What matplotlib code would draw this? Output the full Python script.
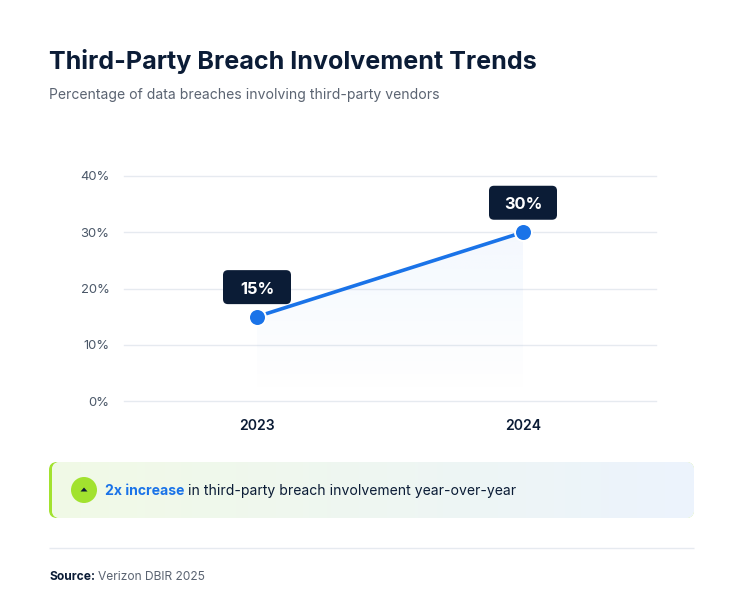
import numpy as np
import matplotlib
matplotlib.use("Agg")
import matplotlib.pyplot as plt
from matplotlib.patches import FancyBboxPatch, Circle, Polygon

years = [2023, 2024]
breach_pct = [15, 30]
y_ticks = [0, 10, 20, 30, 40]

W, H = 745, 605
NAVY = "#0b1c36"
BLUE = "#1a73e8"
LIME = "#a2e22f"
GREY = "#5b6472"
GRID = "#e6eaf0"

plt.rcParams["font.family"] = ["Inter", "DejaVu Sans"]


def px(size):
    # css pixels to points at dpi 100
    return size * 0.72


fig = plt.figure(figsize=(W / 100, H / 100), dpi=100, facecolor="white")

# full-figure axes in pixel coordinates for the card furniture
bg = fig.add_axes([0, 0, 1, 1])
bg.set_xlim(0, W)
bg.set_ylim(H, 0)
bg.axis("off")

bg.text(49, 61, "Third-Party Breach Involvement Trends", fontsize=px(25.1), fontweight="bold",
        color=NAVY, va="center", ha="left")
bg.text(49, 95, "Percentage of data breaches involving third-party vendors", fontsize=px(14),
        color=GREY, va="center", ha="left")

# callout banner
lime_box = FancyBboxPatch((49, 462), 645, 56, boxstyle="round,pad=0,rounding_size=8",
                          fc=LIME, ec="none", zorder=1)
bg.add_patch(lime_box)
inner = FancyBboxPatch((52, 462), 642, 56, boxstyle="round,pad=0,rounding_size=8",
                       fc="white", ec="none", zorder=2)
bg.add_patch(inner)
left_c = np.array([0xf1, 0xfa, 0xe6]) / 255
right_c = np.array([0xec, 0xf3, 0xfd]) / 255
t = np.linspace(0, 1, 256)[None, :, None]
grad = left_c[None, None, :] * (1 - t) + right_c[None, None, :] * t
im = bg.imshow(grad, extent=(52, 694, 518, 462), aspect="auto", zorder=3)
im.set_clip_path(inner)
bg.set_xlim(0, W)
bg.set_ylim(H, 0)

bg.add_patch(Circle((84, 490), 13, fc=LIME, ec="none", zorder=4))
bg.add_patch(Polygon([[80.5, 491.5], [87.5, 491.5], [84, 487.5]], closed=True, fc=NAVY, ec="none", zorder=5))

lead = bg.text(105, 491, "2x increase", fontsize=px(14), fontweight="bold", color=BLUE,
               va="center", ha="left", zorder=5)
fig.canvas.draw()
r = fig.canvas.get_renderer()
end = lead.get_window_extent(r).x1
bg.text(end + 4, 491, "in third-party breach involvement year-over-year", fontsize=px(14), color=NAVY,
        va="center", ha="left", zorder=5)

# footer
bg.plot([49, 694], [548, 548], color=GRID, lw=1, solid_capstyle="butt")
src = bg.text(49, 577, "Source:", fontsize=px(12.05), fontweight="bold", color=NAVY, va="center", ha="left")
fig.canvas.draw()
end = src.get_window_extent(r).x1
bg.text(end + 3.5, 577, "Verizon DBIR 2025", fontsize=px(12.05), color=GREY, va="center", ha="left")

# chart area: 124..656 px across, 176..401 px down
ax = fig.add_axes([124 / W, 1 - 401 / H, (656 - 124) / W, (401 - 176) / H])
ax.patch.set_alpha(0)
ax.set_xlim(2022.5, 2024.5)
ax.set_ylim(0, 40)
for s in ax.spines.values():
    s.set_visible(False)
ax.set_yticks(y_ticks)
ax.set_yticklabels([f"{v}%" for v in y_ticks], fontsize=px(13), color="#4a5768")
ax.set_xticks(years)
ax.set_xticklabels([str(v) for v in years], fontsize=px(14), fontweight="semibold", color=NAVY)
ax.tick_params(axis="both", length=0)
ax.tick_params(axis="y", pad=10.5)
ax.tick_params(axis="x", pad=13)
ax.grid(axis="y", color=GRID, lw=1, clip_on=False)
ax.set_axisbelow(True)

# area under the line fades out towards the baseline
fade = np.zeros((256, 1, 4))
fade[..., :3] = matplotlib.colors.to_rgb(BLUE)
fade[..., 3] = np.linspace(0.05, 0.0, 256)[:, None]
area = ax.imshow(fade, extent=(years[0], years[1], 0, max(breach_pct)), origin="upper",
                 aspect="auto", zorder=1)
area.set_clip_path(Polygon([[years[0], 0], [years[0], breach_pct[0]], [years[1], breach_pct[1]], [years[1], 0]],
                           closed=True, transform=ax.transData))
ax.set_xlim(2022.5, 2024.5)
ax.set_ylim(0, 40)

ax.plot(years, breach_pct, color=BLUE, lw=2.6, zorder=3, solid_capstyle="butt")
ax.plot(years, breach_pct, "o", ms=12.2, mfc=BLUE, mec="white", mew=1.4, zorder=4, clip_on=False)

# value badges sit 30 px above their point
top = fig.add_axes([0, 0, 1, 1])
top.set_xlim(0, W)
top.set_ylim(H, 0)
top.axis("off")
for x, y in zip(years, breach_pct):
    dx, dy = ax.transData.transform((x, y))
    cx, cy = dx, H - dy - 29.5
    top.add_patch(FancyBboxPatch((cx - 34, cy - 17), 68, 34, boxstyle="round,pad=0,rounding_size=5",
                                 fc=NAVY, ec="none"))
    top.text(cx, cy + 2, f"{y}%", fontsize=px(16.5), fontweight="bold", color="white", ha="center", va="center")

fig.savefig("out.png", dpi=100, facecolor="white")
